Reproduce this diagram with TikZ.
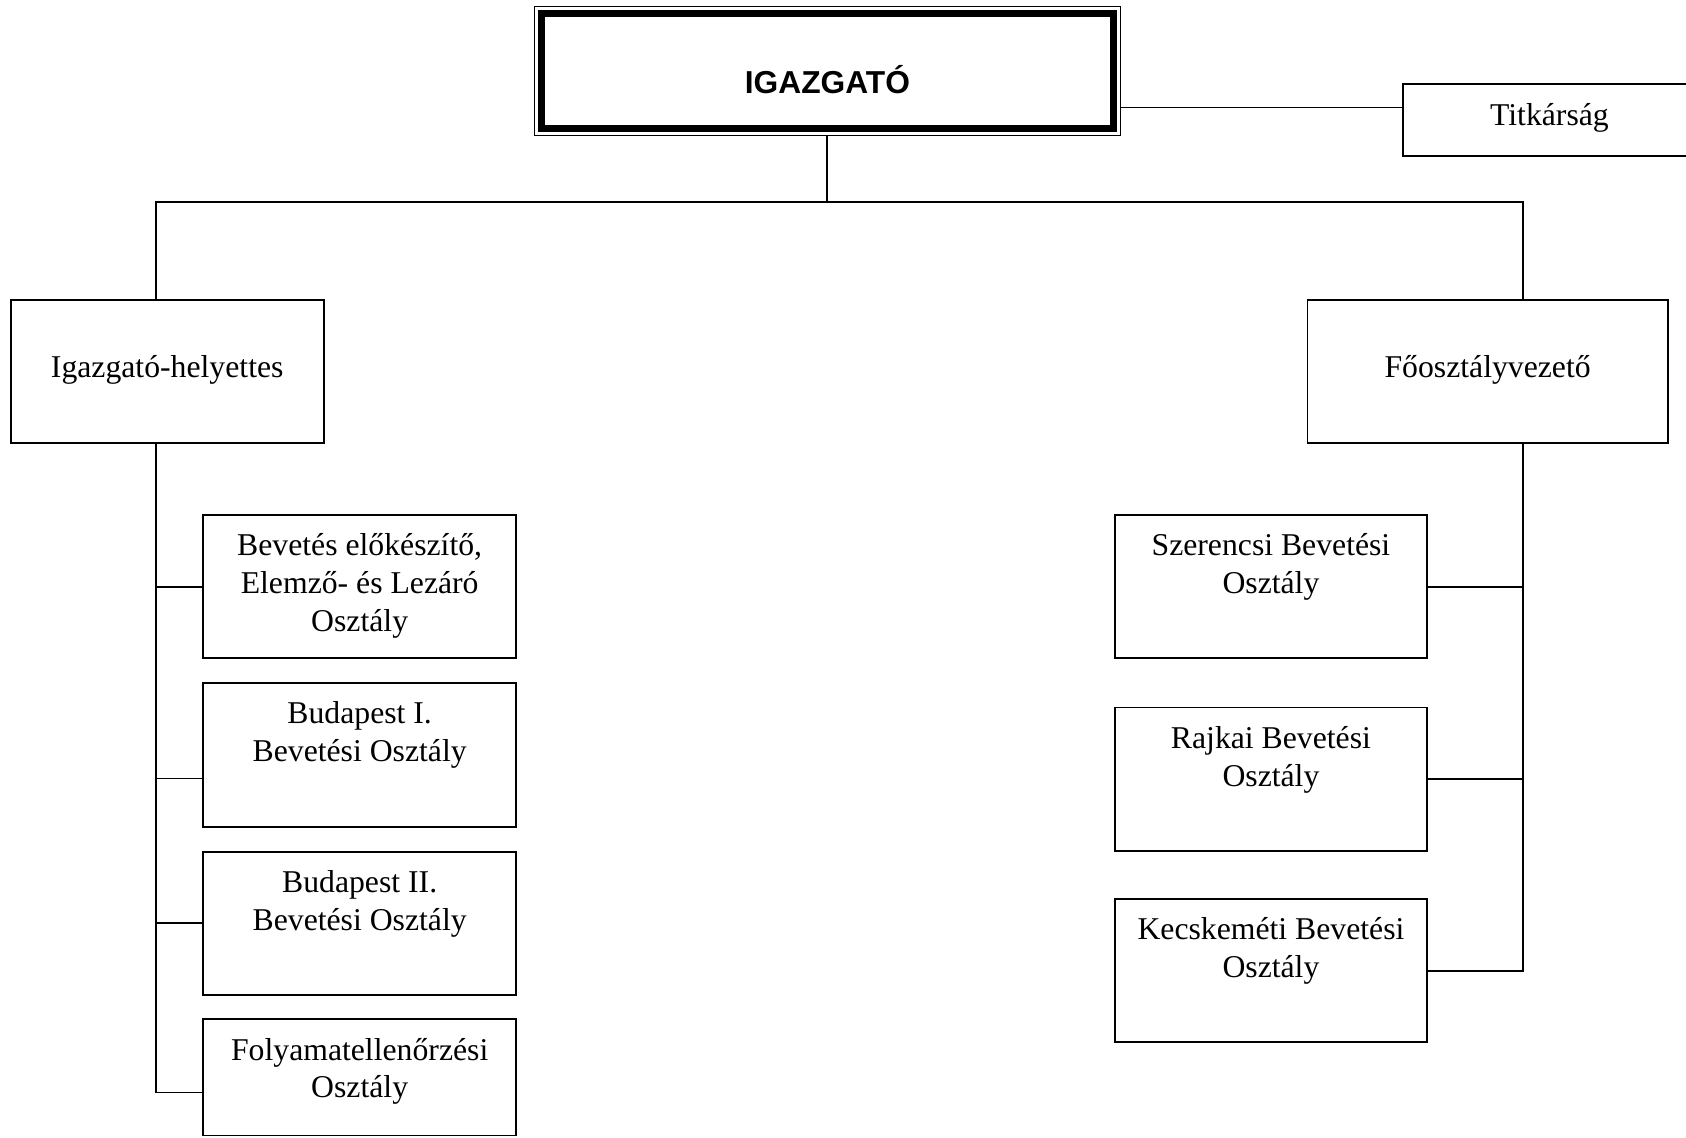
\documentclass[tikz,border=0pt]{standalone}
\usepackage{fontspec}
\setmainfont{Liberation Serif}
\newfontfamily\arialfam{Liberation Sans}
\usetikzlibrary{calc}
\newcommand\rmtxt{\fontsize{29.5}{35}\selectfont}
\newcommand\lines[1]{\parbox[t]{300pt}{\centering #1}}
\begin{document}
\begin{tikzpicture}[x=1pt,y=-1pt,
  box/.style={draw, line width=1.8pt, inner sep=0pt, outer sep=0pt},
  conn/.style={line width=1.8pt},
  txt/.style={anchor=base, inner sep=0pt, font=\rmtxt},
  headtxt/.style={anchor=base, inner sep=0pt, font=\arialfam\bfseries\fontsize{29.5}{35}\selectfont}]
\useasboundingbox (0,0) rectangle (1568,1058);

% top
\node[box, line width=1.4pt, minimum width=545pt, minimum height=120pt,
  label={[headtxt, yshift=-81pt]north:IGAZGATÓ}] (top) at (769.5,66) {};
\draw[line width=6.5pt] ($(top.north west)+(6.5,6.5)$) rectangle ($(top.south east)+(-6.5,-6.5)$);

\node[box, minimum width=272pt, minimum height=67pt,
  label={[txt, yshift=-39pt]north:Titkárság}] (tit) at (1441,111.5) {};

\node[box, minimum width=291pt, minimum height=133pt,
  label={[txt, yshift=-72pt]north:Igazgató-helyettes}] (ih) at (155.5,345.5) {};
\node[box, minimum width=335pt, minimum height=133pt,
  label={[txt, yshift=-72pt]north:Főosztályvezető}] (fo) at (1383.5,345.5) {};

% left column
\node[box, minimum width=291pt, minimum height=133pt,
  label={[txt, yshift=-38pt]north:\lines{Bevetés előkészítő,\\Elemző- és Lezáró\\Osztály}}] (b1) at (334.5,545.5) {};
\node[box, minimum width=291pt, minimum height=134pt,
  label={[txt, yshift=-38pt]north:\lines{Budapest I.\\Bevetési Osztály}}] (b2) at (334.5,702) {};
\node[box, minimum width=291pt, minimum height=133pt,
  label={[txt, yshift=-38pt]north:\lines{Budapest II.\\Bevetési Osztály}}] (b3) at (334.5,858.5) {};
\node[box, minimum width=291pt, minimum height=108pt,
  label={[txt, yshift=-38pt]north:\lines{Folyamatellenőrzési\\Osztály}}] (b4) at (334.5,1002) {};

% right column
\node[box, minimum width=290pt, minimum height=133pt,
  label={[txt, yshift=-38pt]north:\lines{Szerencsi Bevetési\\Osztály}}] (r1) at (1182,545.5) {};
\node[box, minimum width=290pt, minimum height=133pt,
  label={[txt, yshift=-38pt]north:\lines{Rajkai Bevetési\\Osztály}}] (r2) at (1182,724.5) {};
\node[box, minimum width=290pt, minimum height=133pt,
  label={[txt, yshift=-38pt]north:\lines{Kecskeméti Bevetési\\Osztály}}] (r3) at (1182,902.5) {};

% connectors
\draw[conn] (top.east |- 0,100) -- (tit.west |- 0,100);
\draw[conn] (top.south) -- (top.south |- 0,188);
\draw[conn] (ih.north -| 145,0) -- (145,188) -- (1416,188) -- (fo.north -| 1416,0);

\draw[conn] (ih.south -| 145,0) -- (145,1016) -- (b4.west |- 0,1016);
\draw[conn] (b1.west -| 145,0) -- (b1.west);
\draw[conn] (145,724) -- (b2.west |- 0,724);
\draw[conn] (b3.west -| 145,0) -- (b3.west);

\draw[conn] (fo.south -| 1416,0) -- (1416,903) -- (r3.east |- 0,903);
\draw[conn] (r1.east) -- (r1.east -| 1416,0);
\draw[conn] (r2.east) -- (r2.east -| 1416,0);
\end{tikzpicture}
\end{document}
